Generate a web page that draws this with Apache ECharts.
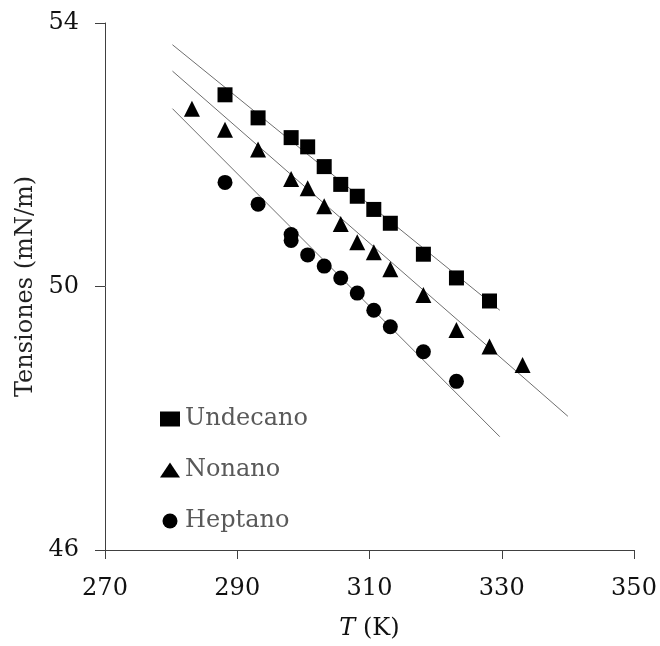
<!DOCTYPE html>
<html><head><meta charset="utf-8">
<script src="https://cdn.jsdelivr.net/npm/echarts@6/dist/echarts.min.js"></script>
<style>html,body{margin:0;padding:0;background:#fff}#c{width:660px;height:646px}</style>
</head><body><div id="c"></div>
<script>
const xTicks = [270, 290, 310, 330, 350];
const yTicks = [46, 50, 54];
const undecanoT = [288.15, 293.15, 298.15, 300.65, 303.15, 305.65, 308.15, 310.65, 313.15, 318.15, 323.15, 328.15];
const undecanoS = [52.91, 52.56, 52.26, 52.12, 51.82, 51.55, 51.37, 51.17, 50.96, 50.49, 50.13, 49.78];
const nonanoT = [283.15, 288.15, 293.15, 298.15, 300.65, 303.15, 305.65, 308.15, 310.65, 313.15, 318.15, 323.15, 328.15, 333.15];
const nonanoS = [52.70, 52.38, 52.08, 51.63, 51.49, 51.22, 50.95, 50.67, 50.52, 50.26, 49.87, 49.34, 49.09, 48.81];
const heptanoT = [288.15, 293.15, 298.15, 298.15, 300.65, 303.15, 305.65, 308.15, 310.65, 313.15, 318.15, 323.15];
const heptanoS = [51.58, 51.25, 50.79, 50.70, 50.48, 50.31, 50.13, 49.90, 49.64, 49.39, 49.01, 48.56];
const fitUndecanoT = [280.2, 329.7];
const fitUndecanoS = [53.67, 49.64];
const fitNonanoT = [280.2, 340.0];
const fitNonanoS = [53.27, 48.03];
const fitHeptanoT = [280.2, 329.7];
const fitHeptanoS = [52.70, 47.72];

const zip = (a, b) => a.map((v, i) => [v, b[i]]);
const serif = 'DejaVu Serif';
const chart = echarts.init(document.getElementById('c'));
const fitLine = (t, s) => ({
  type: 'line', data: zip(t, s), symbol: 'none', silent: true,
  lineStyle: { color: '#6e6e6e', width: 1 }, z: 1
});
chart.setOption({
  animation: false,
  grid: { left: 105, right: 26, top: 23, bottom: 94 },
  legend: {
    data: ['Undecano', 'Nonano', 'Heptano'],
    orient: 'vertical', left: 155, top: 402, itemGap: 27,
    itemWidth: 20, itemHeight: 15,
    textStyle: { fontFamily: serif, fontSize: 24, color: '#595959' }
  },
  xAxis: {
    type: 'value', min: 270, max: 350, interval: 20,
    splitLine: { show: false },
    axisLine: { lineStyle: { color: '#404040', width: 1 } },
    axisTick: { length: 9, lineStyle: { color: '#404040' } },
    axisLabel: { fontFamily: serif, fontSize: 24, color: '#111', margin: 27,
      formatter: v => xTicks.includes(v) ? String(v) : '' },
    name: '{i|T} (K)', nameLocation: 'middle', nameGap: 67,
    nameTextStyle: { fontFamily: serif, fontSize: 24, color: '#111',
      rich: { i: { fontFamily: serif, fontStyle: 'italic', fontSize: 24, color: '#111' } } }
  },
  yAxis: {
    type: 'value', min: 46, max: 54, interval: 4,
    splitLine: { show: false },
    axisLine: { show: true, lineStyle: { color: '#404040', width: 1 } },
    axisTick: { show: true, length: 10, lineStyle: { color: '#404040' } },
    axisLabel: { fontFamily: serif, fontSize: 24, color: '#111', margin: 26,
      formatter: v => yTicks.includes(v) ? String(v) : '' },
    name: 'Tensiones (mN/m)', nameLocation: 'middle', nameGap: 62,
    nameTextStyle: { fontFamily: serif, fontSize: 24, color: '#222' }
  },
  series: [
    fitLine(fitUndecanoT, fitUndecanoS),
    fitLine(fitNonanoT, fitNonanoS),
    fitLine(fitHeptanoT, fitHeptanoS),
    { name: 'Undecano', type: 'scatter', data: zip(undecanoT, undecanoS), symbol: 'rect', symbolSize: 15, itemStyle: { color: '#000', opacity: 1 }, z: 3 },
    { name: 'Nonano', type: 'scatter', data: zip(nonanoT, nonanoS), symbol: 'triangle', symbolSize: 16, itemStyle: { color: '#000', opacity: 1 }, z: 3 },
    { name: 'Heptano', type: 'scatter', data: zip(heptanoT, heptanoS), symbol: 'circle', symbolSize: 15, itemStyle: { color: '#000', opacity: 1 }, z: 3 }
  ]
});
</script></body></html>
